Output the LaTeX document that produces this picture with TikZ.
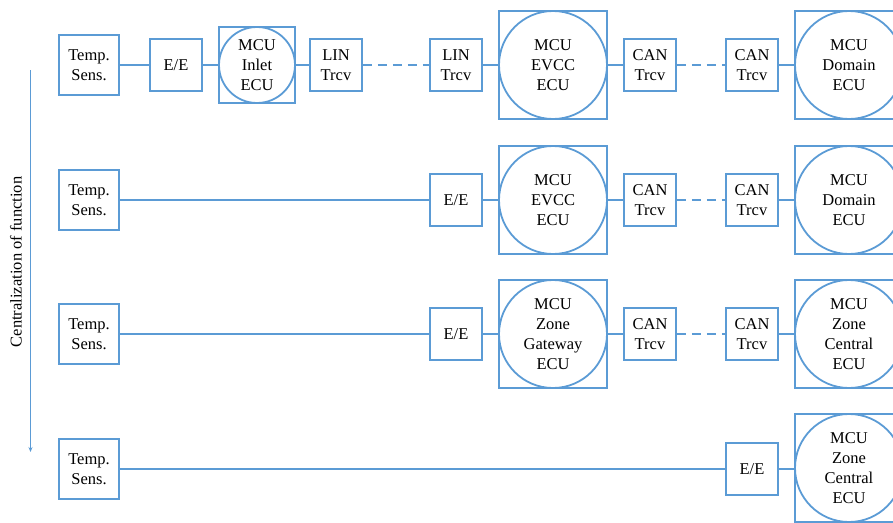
\documentclass[tikz,border=0pt]{standalone}
\usepackage{fontspec}
\setmainfont{Liberation Serif}
\usetikzlibrary{arrows.meta}
\definecolor{lb}{HTML}{5B9BD5}
\begin{document}
\begin{tikzpicture}[x=1pt,y=-1pt,
  every node/.style={font=\fontsize{16.5}{20}\selectfont, align=center, inner sep=0pt},
  sbox/.style={draw=lb, line width=1.8pt, minimum size=60pt},
  ebox/.style={draw=lb, line width=1.8pt, minimum size=52pt},
  ecusq/.style={draw=lb, line width=1.8pt, minimum size=#1},
  ecuci/.style={draw=lb, line width=1.8pt, circle, minimum size=#1},
  conn/.style={draw=lb, line width=1.8pt},
  dconn/.style={draw=lb, line width=1.8pt, dash pattern=on 9pt off 6pt}]
\clip (0,0) rectangle (893,522);
% Row 1
\node[sbox] (s1) at (89,65) {Temp.\\Sens.};
\node[ebox] (e1) at (176,65) {E/E};
\node[ecusq=76pt] (in1) at (257,65) {};
\node[ecuci=76pt] (in1c) at (257,65) {MCU\\Inlet\\ECU};
\node[ebox] (l1a) at (336,65) {LIN\\Trcv};
\node[ebox] (l1b) at (456,65) {LIN\\Trcv};
\node[ecusq=108pt] (ev1) at (553,65) {};
\node[ecuci=108pt] (ev1c) at (553,65) {MCU\\EVCC\\ECU};
\node[ebox] (c1a) at (650,65) {CAN\\Trcv};
\node[ebox] (c1b) at (752,65) {CAN\\Trcv};
\node[ecusq=108pt] (d1) at (849,65) {};
\node[ecuci=108pt] (d1c) at (849,65) {MCU\\Domain\\ECU};
\draw[conn] (s1) -- (e1);
\draw[conn] (e1) -- (in1);
\draw[conn] (in1) -- (l1a);
\draw[dconn] (l1a) -- (l1b);
\draw[conn] (l1b) -- (ev1);
\draw[conn] (ev1) -- (c1a);
\draw[dconn] (c1a) -- (c1b);
\draw[conn] (c1b) -- (d1);
% Row 2
\node[sbox] (s2) at (89,200) {Temp.\\Sens.};
\node[ebox] (e2) at (456,200) {E/E};
\node[ecusq=108pt] (ev2) at (553,200) {};
\node[ecuci=108pt] (ev2c) at (553,200) {MCU\\EVCC\\ECU};
\node[ebox] (c2a) at (650,200) {CAN\\Trcv};
\node[ebox] (c2b) at (752,200) {CAN\\Trcv};
\node[ecusq=108pt] (d2) at (849,200) {};
\node[ecuci=108pt] (d2c) at (849,200) {MCU\\Domain\\ECU};
\draw[conn] (s2) -- (e2);
\draw[conn] (e2) -- (ev2);
\draw[conn] (ev2) -- (c2a);
\draw[dconn] (c2a) -- (c2b);
\draw[conn] (c2b) -- (d2);
% Row 3
\node[sbox] (s3) at (89,334) {Temp.\\Sens.};
\node[ebox] (e3) at (456,334) {E/E};
\node[ecusq=108pt] (g3) at (553,334) {};
\node[ecuci=108pt] (g3c) at (553,334) {MCU\\Zone\\Gateway\\ECU};
\node[ebox] (c3a) at (650,334) {CAN\\Trcv};
\node[ebox] (c3b) at (752,334) {CAN\\Trcv};
\node[ecusq=108pt] (z3) at (849,334) {};
\node[ecuci=108pt] (z3c) at (849,334) {MCU\\Zone\\Central\\ECU};
\draw[conn] (s3) -- (e3);
\draw[conn] (e3) -- (g3);
\draw[conn] (g3) -- (c3a);
\draw[dconn] (c3a) -- (c3b);
\draw[conn] (c3b) -- (z3);
% Row 4
\node[sbox] (s4) at (89,469) {Temp.\\Sens.};
\node[ebox] (e4) at (752,469) {E/E};
\node[ecusq=108pt] (z4) at (849,468) {};
\node[ecuci=108pt] (z4c) at (849,468) {MCU\\Zone\\Central\\ECU};
\draw[conn] (s4) -- (e4);
\draw[conn] (e4) -- (e4 -| z4.west);
% Arrow
\coordinate (atop) at (30.5,70);
\coordinate (abot) at (30.5,452);
\draw[draw=lb, line width=1.4pt, -{Stealth[length=5pt,width=4pt]}] (atop) -- (abot);
\node[rotate=90] (lab) at (16,262) {Centralization of function};
\end{tikzpicture}
\end{document}
